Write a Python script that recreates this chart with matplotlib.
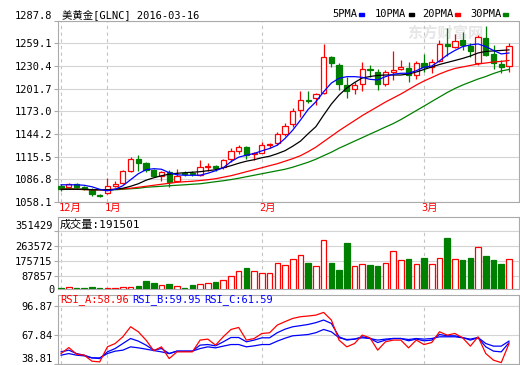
import numpy as np
import matplotlib
matplotlib.use("Agg")
import matplotlib.pyplot as plt
from matplotlib.patches import Rectangle

plt.rcParams['font.family'] = ['DejaVu Sans Mono', 'Noto Sans CJK SC']
plt.rcParams['font.size'] = 7.5

# daily candles, 2015-12 .. 2016-03-16
opens = [1078.0, 1077.2, 1080.6, 1077.2, 1073.8, 1066.5, 1069.5, 1078.9, 1082.7, 1097.5,
         1112.3, 1106.9, 1098.4, 1090.7, 1096.2, 1084.4, 1094.6, 1095.2, 1092.0, 1103.0,
         1104.3, 1102.6, 1113.2, 1122.9, 1127.9, 1118.7, 1120.3, 1130.8, 1132.3, 1143.7,
         1156.4, 1174.6, 1187.0, 1189.4, 1195.8, 1241.5, 1231.7, 1206.3, 1200.8, 1207.2,
         1226.0, 1223.2, 1207.2, 1223.2, 1226.2, 1227.5, 1219.0, 1233.9, 1229.5, 1237.2,
         1258.4, 1255.0, 1263.5, 1255.8, 1233.9, 1265.6, 1245.7, 1233.0, 1230.4]
highs = [1081.5, 1082.2, 1082.2, 1078.9, 1075.9, 1068.8, 1089.1, 1084.8, 1098.4, 1114.5,
         1117.4, 1108.9, 1100.5, 1097.5, 1098.4, 1100.5, 1097.1, 1097.1, 1111.9, 1106.9,
         1105.6, 1113.2, 1126.7, 1130.1, 1129.5, 1121.6, 1134.3, 1133.0, 1147.0, 1158.4,
         1176.7, 1198.7, 1198.7, 1196.5, 1258.4, 1243.1, 1233.9, 1216.9, 1210.5, 1235.9,
         1231.7, 1226.2, 1225.4, 1249.5, 1238.1, 1235.1, 1236.8, 1245.3, 1238.9, 1263.5,
         1278.3, 1271.1, 1274.0, 1259.3, 1269.8, 1281.2, 1257.1, 1238.1, 1259.3]
lows = [1072.1, 1075.9, 1075.1, 1073.0, 1065.3, 1064.5, 1067.9, 1077.2, 1080.6, 1096.2,
        1097.5, 1096.2, 1089.9, 1084.8, 1076.8, 1083.1, 1090.7, 1090.7, 1090.7, 1097.1,
        1097.5, 1100.5, 1108.9, 1118.7, 1113.2, 1111.9, 1119.6, 1125.9, 1130.1, 1141.5,
        1153.4, 1165.3, 1183.8, 1180.9, 1194.9, 1229.5, 1200.0, 1189.4, 1194.9, 1198.7,
        1216.9, 1200.0, 1205.4, 1212.7, 1225.4, 1209.7, 1213.5, 1223.2, 1221.2, 1235.9,
        1243.1, 1252.9, 1250.8, 1242.3, 1231.7, 1243.1, 1226.2, 1221.9, 1223.2]
closes = [1074.6, 1080.6, 1077.2, 1074.6, 1067.9, 1066.0, 1078.9, 1081.5, 1097.1, 1112.3,
          1108.1, 1098.4, 1091.6, 1096.0, 1083.5, 1091.4, 1093.8, 1093.3, 1102.6, 1103.6,
          1101.3, 1111.1, 1122.5, 1127.9, 1117.4, 1119.6, 1130.1, 1131.4, 1144.1, 1154.6,
          1173.3, 1187.3, 1186.0, 1194.5, 1241.5, 1234.6, 1207.2, 1199.1, 1206.3, 1226.2,
          1224.8, 1207.2, 1222.4, 1225.4, 1228.8, 1219.0, 1233.9, 1229.5, 1235.1, 1258.4,
          1255.2, 1261.6, 1257.1, 1249.5, 1266.9, 1244.4, 1233.9, 1229.5, 1255.8]

ma5 = [1079.9, 1079.9, 1079.9, 1079.3, 1077.4, 1074.2, 1072.3, 1074.2, 1078.7, 1086.3,
       1093.9, 1099.0, 1100.3, 1099.6, 1095.2, 1092.6, 1092.0, 1092.0, 1092.0, 1094.5,
       1097.7, 1101.5, 1109.2, 1114.9, 1117.4, 1119.6, 1122.9, 1125.9, 1130.1, 1138.6,
       1149.2, 1161.9, 1175.4, 1185.1, 1197.8, 1208.8, 1214.8, 1216.9, 1216.9, 1216.1,
       1213.5, 1212.7, 1216.9, 1219.9, 1221.2, 1221.2, 1224.5, 1228.8, 1230.4, 1236.8,
       1244.4, 1250.1, 1255.0, 1257.1, 1258.4, 1255.0, 1250.1, 1245.7, 1246.9]
ma10 = [1074.2, 1074.2, 1074.2, 1074.2, 1073.6, 1073.6, 1073.6, 1074.2, 1075.5, 1078.0,
        1081.2, 1085.7, 1088.8, 1091.4, 1093.3, 1094.5, 1095.2, 1095.8, 1096.5, 1097.7,
        1099.0, 1101.5, 1104.1, 1107.2, 1109.8, 1111.7, 1114.2, 1116.1, 1119.3, 1123.1,
        1128.8, 1135.2, 1144.7, 1153.6, 1168.2, 1182.2, 1193.6, 1202.5, 1209.5, 1215.2,
        1217.1, 1218.4, 1219.0, 1219.0, 1219.0, 1220.3, 1222.8, 1226.0, 1229.2, 1232.3,
        1234.9, 1237.4, 1240.0, 1243.1, 1246.9, 1248.9, 1249.5, 1250.1, 1250.8]
ma20 = [1074.2, 1074.2, 1074.2, 1073.8, 1073.6, 1073.6, 1073.6, 1074.2, 1074.9, 1075.5,
        1076.8, 1078.0, 1079.3, 1080.6, 1081.8, 1083.1, 1083.8, 1084.4, 1085.3, 1086.3,
        1087.6, 1089.5, 1091.4, 1093.9, 1096.5, 1099.0, 1101.5, 1104.1, 1106.6, 1109.8,
        1113.0, 1116.8, 1121.9, 1127.6, 1134.6, 1141.5, 1148.5, 1154.9, 1161.2, 1167.6,
        1173.3, 1179.0, 1184.7, 1189.8, 1194.9, 1200.6, 1206.3, 1211.4, 1215.8, 1220.3,
        1224.1, 1227.3, 1229.2, 1231.1, 1233.0, 1234.2, 1235.5, 1236.2, 1237.4]
ma30 = [1074.9, 1074.9, 1074.6, 1074.2, 1073.8, 1073.6, 1073.3, 1073.6, 1074.2, 1074.9,
        1075.5, 1076.8, 1077.4, 1078.0, 1078.7, 1079.3, 1079.9, 1080.6, 1081.2, 1082.5,
        1083.8, 1085.0, 1086.5, 1088.2, 1090.1, 1092.0, 1093.9, 1095.8, 1097.7, 1099.6,
        1102.2, 1105.3, 1108.5, 1112.3, 1116.8, 1121.2, 1126.3, 1130.7, 1135.2, 1139.6,
        1144.1, 1148.5, 1153.0, 1157.4, 1162.5, 1168.2, 1173.9, 1179.6, 1185.4, 1191.1,
        1196.8, 1201.9, 1206.3, 1210.1, 1213.9, 1217.1, 1220.9, 1224.1, 1226.0]

volume = [23000, 27000, 21000, 21000, 29000, 21000, 21000, 21000, 27000, 27000,
          35000, 62000, 47000, 39000, 43000, 33000, 21000, 39000, 43000, 49000,
          55000, 66000, 92000, 119000, 139000, 119000, 107000, 107000, 164000, 153000,
          187000, 212000, 166000, 147000, 302000, 166000, 126000, 281000, 147000, 159000,
          155000, 149000, 164000, 233000, 181000, 189000, 160000, 195000, 160000, 193000,
          309000, 187000, 183000, 195000, 256000, 206000, 183000, 162000, 191501]

rsi_a = [49.2, 55.2, 48.6, 47.6, 41.6, 40.9, 55.9, 59.2, 65.9, 75.9,
         70.9, 62.6, 52.0, 55.9, 44.2, 50.9, 50.9, 50.9, 62.6, 63.6,
         57.6, 65.9, 73.2, 75.2, 62.6, 64.2, 69.2, 69.9, 77.6, 81.0,
         84.2, 85.9, 86.6, 87.5, 90.2, 82.6, 62.6, 55.9, 59.2, 67.6,
         64.9, 52.6, 60.9, 62.6, 62.6, 54.9, 62.6, 58.2, 60.2, 70.9,
         67.6, 69.2, 64.9, 56.6, 65.9, 49.2, 42.6, 40.2, 58.96]
rsi_b = [50.9, 52.6, 49.2, 47.6, 44.9, 44.2, 50.9, 54.2, 59.2, 64.2,
         61.6, 57.6, 52.6, 54.2, 49.2, 51.6, 51.6, 51.6, 57.6, 58.2,
         56.9, 60.9, 65.2, 65.2, 60.9, 62.6, 64.9, 64.9, 70.0, 73.5,
         75.9, 77.0, 78.2, 80.0, 82.6, 79.2, 65.9, 62.6, 63.6, 65.9,
         64.2, 60.2, 62.6, 64.2, 64.2, 61.9, 63.6, 61.9, 62.6, 68.2,
         66.9, 66.9, 65.2, 62.6, 64.9, 55.9, 51.6, 50.9, 59.95]
rsi_c = [47.6, 49.2, 47.6, 46.9, 44.9, 44.9, 49.2, 51.6, 52.6, 55.9,
         54.9, 53.6, 52.2, 50.9, 49.2, 51.6, 51.6, 51.6, 54.2, 55.9,
         54.9, 56.6, 58.2, 58.2, 55.9, 56.9, 58.2, 58.2, 61.6, 64.5,
         66.9, 67.5, 68.2, 70.0, 73.2, 70.9, 64.9, 63.2, 63.6, 64.9,
         64.2, 62.6, 63.6, 64.2, 64.2, 63.2, 64.2, 63.6, 64.2, 65.9,
         65.9, 65.9, 64.9, 63.6, 65.2, 59.2, 56.6, 56.6, 61.59]

month_idx = [0, 6, 26, 47]
month_lbl = ['12月', '1月', '2月', '3月']
price_ticks = [1058.1, 1086.8, 1115.5, 1144.2, 1173.0, 1201.7, 1230.4, 1259.1, 1287.8]
vol_ticks = [87857, 175715, 263572, 351429]
rsi_ticks = [38.81, 67.84, 96.87]

RED, GREEN, BLUE = '#ff0000', '#008000', '#0000ff'
FRAME, GRID, DASH = '#aaaaaa', '#d4d4d4', '#c4c4c4'

W, H = 520, 365
fig = plt.figure(figsize=(W / 100, H / 100), dpi=100)


def box(l, t, r, b):
    return [l / W, 1 - b / H, (r - l) / W, (b - t) / H]


def frame(ax):
    for s in ax.spines.values():
        s.set_color(FRAME)
        s.set_linewidth(0.8)
    ax.set_xlim(-0.4, 59.3)
    ax.set_xticks([])
    ax.tick_params(axis='y', length=3, width=0.8, color=FRAME, pad=1, labelsize=7.5)


x = np.arange(len(closes))
o = np.array(opens); c = np.array(closes)
up = c >= o
dn = ~up

# ---- price panel
ax = fig.add_axes(box(58, 20.7, 519, 202))
frame(ax)
ax.set_ylim(price_ticks[0], price_ticks[-1])
ax.set_yticks(price_ticks)
ax.set_yticklabels(['%.1f' % v for v in price_ticks])
ax.get_yticklabels()[-1].set_va('bottom')
ax.grid(axis='y', color=GRID, lw=0.8)
for m in month_idx:
    ax.axvline(m, color=DASH, lw=0.8, ls=(0, (3, 3)), zorder=1)
ax.vlines(x[up], np.array(lows)[up], np.array(highs)[up], color=RED, lw=0.9, zorder=2)
ax.vlines(x[dn], np.array(lows)[dn], np.array(highs)[dn], color=GREEN, lw=0.9, zorder=2)
ax.bar(x[up], c[up] - o[up], bottom=o[up], width=0.68, facecolor='white',
       edgecolor=RED, lw=0.9, zorder=3)
ax.bar(x[dn], o[dn] - c[dn], bottom=c[dn], width=0.68, color=GREEN,
       edgecolor=GREEN, lw=0.9, zorder=3)
ax.plot(x, ma30, color=GREEN, lw=0.9, zorder=4)
ax.plot(x, ma20, color=RED, lw=0.9, zorder=4)
ax.plot(x, ma10, color='black', lw=0.9, zorder=4)
ax.plot(x, ma5, color=BLUE, lw=0.9, zorder=4)
ax.text(0.84, 0.93, '东方财富网', transform=ax.transAxes, color='#e6e6e6',
        fontsize=11, ha='center', va='center', zorder=0, weight='bold')
for m, lbl in zip(month_idx, month_lbl):
    ax.text(m - 0.3, -0.035, lbl, color=RED, transform=ax.get_xaxis_transform(),
            ha='left', va='center')

fig.text(62 / W, 1 - 15 / H, '美黄金[GLNC] 2016-03-16', ha='left', va='center')
legend = [('5PMA', BLUE, 332, 359), ('10PMA', 'black', 375, 409),
          ('20PMA', RED, 422, 455), ('30PMA', GREEN, 470, 503)]
for name, col, tx, sx in legend:
    fig.text(tx / W, 1 - 14 / H, name, ha='left', va='center')
    fig.patches.append(Rectangle((sx / W, 1 - 15.5 / H), 5 / W, 3 / H,
                                 color=col, transform=fig.transFigure))

# ---- volume panel
axh = fig.add_axes(box(58, 217, 519, 231))
frame(axh)
axh.set_yticks([])
axh.set_ylim(0, 1)
axh.text(0.004, 0.45, '成交量:%d' % volume[-1], transform=axh.transAxes,
         ha='left', va='center', fontsize=8)

axv = fig.add_axes(box(58, 231, 519, 289))
frame(axv)
axv.set_ylim(15000, vol_ticks[-1])
axv.set_yticks(vol_ticks)
axv.set_yticklabels([str(v) for v in vol_ticks])
axv.get_yticklabels()[-1].set_va('bottom')
axv.text(-0.008, -0.02, '0', transform=axv.transAxes, ha='right', va='center')
axv.grid(axis='y', color=GRID, lw=0.8)
axv.spines['top'].set_visible(False)
for m in month_idx:
    axv.axvline(m, color=DASH, lw=0.8, ls=(0, (3, 3)), zorder=1)
v = np.array(volume)
axv.bar(x[up], v[up], width=0.72, facecolor='white', edgecolor=RED, lw=0.9, zorder=3)
axv.bar(x[dn], v[dn], width=0.72, color=GREEN, edgecolor=GREEN, lw=0.9, zorder=3)

# ---- RSI panel
axr_h = fig.add_axes(box(58, 295, 519, 305.7))
frame(axr_h)
axr_h.set_yticks([])
axr_h.set_ylim(0, 1)
for txt, col, px in [('RSI_A:%.2f' % rsi_a[-1], RED, 60),
                     ('RSI_B:%.2f' % rsi_b[-1], BLUE, 132),
                     ('RSI_C:%.2f' % rsi_c[-1], BLUE, 204)]:
    fig.text(px / W, 1 - 300 / H, txt, color=col, ha='left', va='center')

axr = fig.add_axes(box(58, 305.7, 519, 364))
frame(axr)
axr.set_ylim(rsi_ticks[0], rsi_ticks[-1])
axr.set_yticks(rsi_ticks)
axr.set_yticklabels(['%.2f' % t for t in rsi_ticks])
axr.get_yticklabels()[0].set_va('bottom')
axr.grid(axis='y', color=GRID, lw=0.8)
axr.spines['top'].set_visible(False)
for m in month_idx:
    axr.axvline(m, color=DASH, lw=0.8, ls=(0, (3, 3)), zorder=1)
axr.plot(x, rsi_c, color=BLUE, lw=0.9, zorder=3)
axr.plot(x, rsi_b, color=BLUE, lw=0.9, zorder=3)
axr.plot(x, rsi_a, color=RED, lw=0.9, zorder=4)

fig.savefig('out.png', dpi=100)
